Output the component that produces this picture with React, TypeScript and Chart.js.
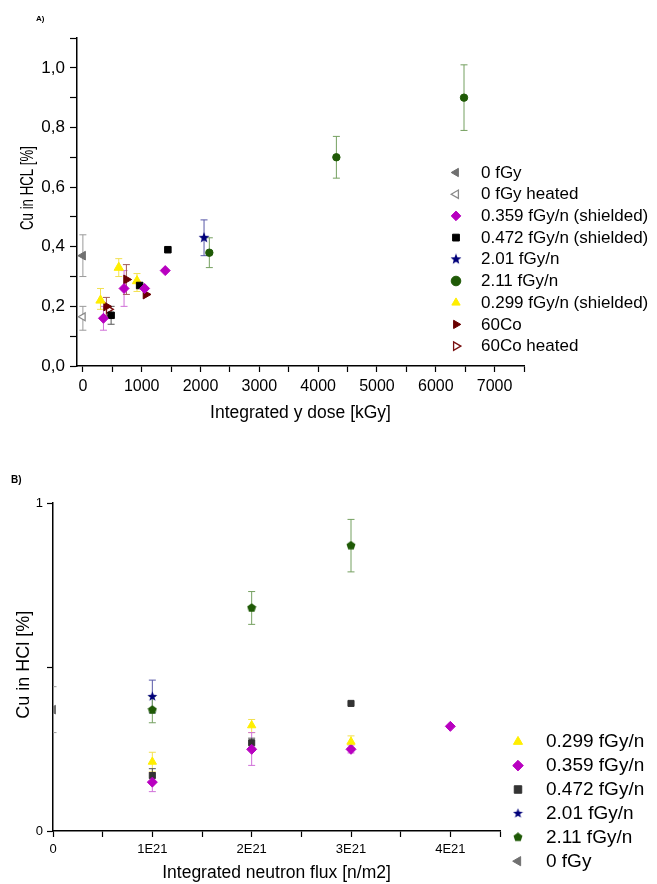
import React, { useEffect, useRef } from 'react';
import { Chart, registerables } from 'chart.js';
import { drawPoint } from 'chart.js/helpers';

Chart.register(...registerables);

const FONT = '"Liberation Sans", Arial, Helvetica, sans-serif';

// ---------- Panel A: Cu in HCL vs integrated gamma dose ----------
const A_X_TICKS = [0, 500, 1000, 1500, 2000, 2500, 3000, 3500, 4000, 4500, 5000, 5500, 6000, 6500, 7000, 7500];
const A_X_LABELS = ['0', '', '1000', '', '2000', '', '3000', '', '4000', '', '5000', '', '6000', '', '7000', ''];
const A_Y_TICKS = [0, 0.1, 0.2, 0.3, 0.4, 0.5, 0.6, 0.7, 0.8, 0.9, 1.0, 1.1];
const A_Y_LABELS = ['0,0', '', '0,2', '', '0,4', '', '0,6', '', '0,8', '', '1,0', ''];

const A0_X = [0];
const A0_Y = [0.37];
const A0_LO = [0.30];
const A0_HI = [0.44];

const A0H_X = [0];
const A0H_Y = [0.165];
const A0H_LO = [0.12];
const A0H_HI = [0.20];

const A359_X = [350, 700, 1050, 1400];
const A359_Y = [0.16, 0.26, 0.26, 0.32];
const A359_LO = [0.12, 0.20, null, null];
const A359_HI = [0.20, 0.32, null, null];

const A472_X = [480, 965, 1445];
const A472_Y = [0.17, 0.27, 0.39];
const A472_LO = [0.14, null, null];
const A472_HI = [0.20, null, null];

const A201_X = [2060];
const A201_Y = [0.43];
const A201_LO = [0.37];
const A201_HI = [0.49];

const A211_X = [2150, 4310, 6480];
const A211_Y = [0.38, 0.70, 0.90];
const A211_LO = [0.33, 0.63, 0.79];
const A211_HI = [0.43, 0.77, 1.01];

const A299_X = [300, 610, 920];
const A299_Y = [0.22, 0.33, 0.285];
const A299_LO = [0.19, 0.30, 0.25];
const A299_HI = [0.26, 0.36, 0.31];

const ACO_X = [400, 740, 1070];
const ACO_Y = [0.20, 0.29, 0.24];
const ACO_LO = [0.17, 0.24, null];
const ACO_HI = [0.23, 0.34, null];

const ACOH_X = [440];
const ACOH_Y = [0.19];
const ACOH_LO = [null];
const ACOH_HI = [null];

const A_LABELS = ['0 fGy', '0 fGy heated', '0.359 fGy/n (shielded)', '0.472 fGy/n (shielded)', '2.01 fGy/n', '2.11 fGy/n', '0.299 fGy/n (shielded)', '60Co', '60Co heated'];

// ---------- Panel B: Cu in HCl vs integrated neutron flux ----------
const B_X_TICKS = [0, 0.5e21, 1e21, 1.5e21, 2e21, 2.5e21, 3e21, 3.5e21, 4e21, 4.5e21];
const B_X_LABELS = ['0', '', '1E21', '', '2E21', '', '3E21', '', '4E21', ''];
const B_Y_TICKS = [0, 0.5, 1];
const B_Y_LABELS = ['0', '', '1'];

const B299_X = [1e21, 2e21, 3e21];
const B299_Y = [0.211, 0.322, 0.272];
const B299_LO = [0.18, 0.30, 0.255];
const B299_HI = [0.24, 0.34, 0.29];

const B359_X = [1e21, 2e21, 3e21, 4e21];
const B359_Y = [0.149, 0.249, 0.249, 0.319];
const B359_LO = [0.12, 0.20, 0.238, null];
const B359_HI = [0.178, 0.30, 0.262, null];

const B472_X = [1e21, 2e21, 3e21];
const B472_Y = [0.169, 0.269, 0.389];
const B472_LO = [0.15, 0.255, null];
const B472_HI = [0.19, 0.283, null];

const B201_X = [1e21];
const B201_Y = [0.41];
const B201_LO = [0.36];
const B201_HI = [0.46];

const B211_X = [1e21, 2e21, 3e21];
const B211_Y = [0.369, 0.68, 0.87];
const B211_LO = [0.33, 0.63, 0.79];
const B211_HI = [0.41, 0.73, 0.95];

const B0_X = [0];
const B0_Y = [0.37];
const B0_LO = [0.30];
const B0_HI = [0.44];

const B_LABELS = ['0.299 fGy/n', '0.359 fGy/n', '0.472 fGy/n', '2.01 fGy/n', '2.11 fGy/n', '0 fGy'];

// ---------- helpers ----------
function makePoly(size: number, n: number, inner: number | null, fill: string) {
  const c = document.createElement('canvas');
  c.width = size;
  c.height = size;
  const ctx = c.getContext('2d')!;
  const cx = size / 2, cy = size / 2, R = size / 2 - 0.3;
  ctx.beginPath();
  const steps = inner ? n * 2 : n;
  for (let i = 0; i < steps; i++) {
    const r = inner && i % 2 === 1 ? R * inner : R;
    const a = -Math.PI / 2 + (i * 2 * Math.PI) / steps;
    const px = cx + r * Math.cos(a), py = cy + r * Math.sin(a);
    if (i === 0) ctx.moveTo(px, py); else ctx.lineTo(px, py);
  }
  ctx.closePath();
  ctx.fillStyle = fill;
  ctx.fill();
  return c;
}

function pts(xs: number[], ys: number[], lo: (number | null)[], hi: (number | null)[]) {
  return xs.map((x, i) => ({ x, y: ys[i], lo: lo[i], hi: hi[i] }));
}

function series(label: string, data: any[], style: any, radius: number, fill: string, border: string, bw: number, err: string, rot = 0, clip?: number) {
  const d: any = {
    label,
    data,
    pointStyle: style,
    pointRadius: radius,
    pointHoverRadius: radius,
    pointBackgroundColor: fill,
    pointBorderColor: border,
    pointBorderWidth: bw,
    pointRotation: rot,
    showLine: false,
    errColor: err,
  };
  if (clip !== undefined) d.clip = clip;
  return d;
}

const errorBarPlugin = {
  id: 'errorBars',
  beforeDatasetsDraw(chart: any) {
    const { ctx, chartArea } = chart;
    const xs = chart.scales.x, ys = chart.scales.y;
    ctx.save();
    ctx.beginPath();
    ctx.rect(chartArea.left, chartArea.top - 2, chartArea.width + 2, chartArea.height + 2);
    ctx.clip();
    chart.data.datasets.forEach((ds: any) => {
      ds.data.forEach((p: any) => {
        if (p.lo == null || p.hi == null) return;
        const x = xs.getPixelForValue(p.x);
        const y1 = ys.getPixelForValue(p.lo);
        const y2 = ys.getPixelForValue(p.hi);
        ctx.strokeStyle = ds.errColor;
        ctx.lineWidth = 1;
        ctx.beginPath();
        ctx.moveTo(x, y1); ctx.lineTo(x, y2);
        ctx.moveTo(x - 3.5, y1); ctx.lineTo(x + 3.5, y1);
        ctx.moveTo(x - 3.5, y2); ctx.lineTo(x + 3.5, y2);
        ctx.stroke();
      });
    });
    ctx.restore();
  },
};

const customLegendPlugin = {
  id: 'customLegend',
  afterDraw(chart: any, _args: any, opts: any) {
    if (!opts || !opts.items) return;
    const { ctx } = chart;
    ctx.save();
    opts.items.forEach((label: string, i: number) => {
      const ds = chart.data.datasets[i];
      const y = opts.y0 + i * opts.dy;
      ctx.fillStyle = ds.pointBackgroundColor;
      ctx.strokeStyle = ds.pointBorderColor;
      ctx.lineWidth = ds.pointBorderWidth;
      drawPoint(ctx, { pointStyle: ds.pointStyle, rotation: ds.pointRotation, radius: opts.r, borderWidth: ds.pointBorderWidth } as any, opts.mx, y);
      ctx.fillStyle = '#000';
      ctx.font = `${opts.fontSize}px ${FONT}`;
      ctx.textBaseline = 'middle';
      ctx.textAlign = 'left';
      ctx.fillText(label, opts.tx, y + 0.5);
    });
    ctx.restore();
  },
};

// vertical axis title drawn with a given length along the text direction
const yTitlePlugin = {
  id: 'yTitle',
  afterDraw(chart: any, _args: any, opts: any) {
    if (!opts || !opts.text) return;
    const { ctx } = chart;
    ctx.save();
    ctx.font = `${opts.size}px ${FONT}`;
    const w = ctx.measureText(opts.text).width;
    const s = opts.length ? opts.length / w : 1;
    ctx.translate(opts.x, opts.y);
    ctx.rotate(-Math.PI / 2);
    ctx.scale(s, 1);
    ctx.fillStyle = '#000';
    ctx.textAlign = 'center';
    ctx.textBaseline = 'middle';
    ctx.fillText(opts.text, 0, 0);
    ctx.restore();
  },
};

function axis(opts: {
  min: number; max: number; ticks: number[]; labels: string[]; size: number; horizontal: boolean;
  fontSize: number; tickLen: number; pad: number; title: string; titleSize: number;
}) {
  return {
    type: 'linear',
    min: opts.min,
    max: opts.max,
    afterBuildTicks: (s: any) => { s.ticks = opts.ticks.map((v) => ({ value: v })); },
    afterFit: (s: any) => { if (opts.horizontal) s.height = opts.size; else s.width = opts.size; },
    ticks: {
      autoSkip: false,
      maxRotation: 0,
      minRotation: 0,
      padding: opts.pad,
      color: '#000',
      font: { family: FONT, size: opts.fontSize },
      callback: (_v: any, i: number) => opts.labels[i],
    },
    grid: {
      display: true,
      drawOnChartArea: false,
      drawTicks: true,
      tickLength: opts.tickLen,
      tickColor: '#000',
      tickWidth: 1.2,
      color: '#000',
    },
    border: { display: true, color: '#000', width: 1.5 },
    title: {
      display: opts.horizontal,
      text: opts.title,
      color: '#000',
      padding: 0,
      font: { family: FONT, size: opts.titleSize },
    },
  };
}

export default function App() {
  const refA = useRef<HTMLCanvasElement>(null);
  const refB = useRef<HTMLCanvasElement>(null);

  useEffect(() => {
    const starA = makePoly(12, 5, 0.42, '#00007a');
    const starB = makePoly(11, 5, 0.42, '#00007a');
    const pentB = makePoly(10, 5, null, '#1f5a06');

    const dsA = [
      series(A_LABELS[0], pts(A0_X, A0_Y, A0_LO, A0_HI), 'triangle', 5, '#707070', '#707070', 1, '#9a9a9a', -90),
      series(A_LABELS[1], pts(A0H_X, A0H_Y, A0H_LO, A0H_HI), 'triangle', 4.5, '#ffffff', '#8a8a8a', 1.3, '#9a9a9a', -90),
      series(A_LABELS[2], pts(A359_X, A359_Y, A359_LO, A359_HI), 'rectRot', 5, '#b800c0', '#b800c0', 1, '#d070d8'),
      series(A_LABELS[3], pts(A472_X, A472_Y, A472_LO, A472_HI), 'rect', 4.6, '#000000', '#000000', 1, '#555555'),
      series(A_LABELS[4], pts(A201_X, A201_Y, A201_LO, A201_HI), starA, 6, '#00007a', '#00007a', 0, '#5858a8'),
      series(A_LABELS[5], pts(A211_X, A211_Y, A211_LO, A211_HI), 'circle', 3.7, '#1f5a06', '#1f5a06', 1, '#75a060'),
      series(A_LABELS[6], pts(A299_X, A299_Y, A299_LO, A299_HI), 'triangle', 5.4, '#ffee00', '#ffee00', 1, '#f2e050'),
      series(A_LABELS[7], pts(ACO_X, ACO_Y, ACO_LO, ACO_HI), 'triangle', 5.2, '#6a0000', '#6a0000', 1, '#a05a5a', 90),
      series(A_LABELS[8], pts(ACOH_X, ACOH_Y, ACOH_LO, ACOH_HI), 'triangle', 4.5, '#ffffff', '#7a1010', 1.3, '#a05a5a', 90),
    ];

    const chartA = new Chart(refA.current!, {
      type: 'scatter',
      data: { datasets: dsA },
      options: {
        animation: false,
        responsive: false,
        maintainAspectRatio: false,
        events: [],
        layout: { padding: { left: 15.5, right: 133, top: 38, bottom: 16.5 } },
        plugins: {
          legend: { display: false },
          tooltip: { enabled: false },
          customLegend: { items: A_LABELS, mx: 456, tx: 481, y0: 172.5, dy: 21.7, r: 4.8, fontSize: 17 },
          yTitle: { text: 'Cu in HCL [%]', x: 27.5, y: 188, size: 19, length: 84 },
        } as any,
        scales: {
          x: axis({ min: -100, max: 7500, ticks: A_X_TICKS, labels: A_X_LABELS, size: 57.5, horizontal: true, fontSize: 16, tickLen: 6, pad: 5, title: 'Integrated y dose [kGy]', titleSize: 17.5 }),
          y: axis({ min: 0, max: 1.1, ticks: A_Y_TICKS, labels: A_Y_LABELS, size: 61.5, horizontal: false, fontSize: 17, tickLen: 7, pad: 5, title: 'Cu in HCL [%]', titleSize: 17.5 }),
        } as any,
      },
      plugins: [errorBarPlugin, customLegendPlugin, yTitlePlugin],
    } as any);

    const dsB = [
      series(B_LABELS[0], pts(B299_X, B299_Y, B299_LO, B299_HI), 'triangle', 4.8, '#ffee00', '#ffee00', 1, '#f2e050'),
      series(B_LABELS[1], pts(B359_X, B359_Y, B359_LO, B359_HI), 'rectRot', 5, '#b800c0', '#b800c0', 1, '#d070d8'),
      series(B_LABELS[2], pts(B472_X, B472_Y, B472_LO, B472_HI), 'rect', 4.3, '#333333', '#333333', 1, '#555555'),
      series(B_LABELS[3], pts(B201_X, B201_Y, B201_LO, B201_HI), starB, 5.5, '#00007a', '#00007a', 0, '#5858a8'),
      series(B_LABELS[4], pts(B211_X, B211_Y, B211_LO, B211_HI), pentB, 5, '#1f5a06', '#1f5a06', 0, '#75a060'),
      series(B_LABELS[5], pts(B0_X, B0_Y, B0_LO, B0_HI), 'triangle', 5, '#707070', '#707070', 1, '#9a9a9a', -90, 0),
    ];

    const chartB = new Chart(refB.current!, {
      type: 'scatter',
      data: { datasets: dsB },
      options: {
        animation: false,
        responsive: false,
        maintainAspectRatio: false,
        events: [],
        layout: { padding: { left: 12, right: 157, top: 63, bottom: 0 } },
        plugins: {
          legend: { display: false },
          tooltip: { enabled: false },
          customLegend: { items: B_LABELS, mx: 518, tx: 546, y0: 301.7, dy: 23.9, r: 5.3, fontSize: 19 },
          yTitle: { text: 'Cu in HCl [%]', x: 24, y: 224.7, size: 18, length: 0 },
        } as any,
        scales: {
          x: axis({ min: 0, max: 4.5e21, ticks: B_X_TICKS, labels: B_X_LABELS, size: 53, horizontal: true, fontSize: 13, tickLen: 6, pad: 5, title: 'Integrated neutron flux [n/m2]', titleSize: 17.5 }),
          y: axis({ min: 0, max: 1, ticks: B_Y_TICKS, labels: B_Y_LABELS, size: 41, horizontal: false, fontSize: 13, tickLen: 6, pad: 4, title: 'Cu in HCl [%]', titleSize: 17.5 }),
        } as any,
      },
      plugins: [errorBarPlugin, customLegendPlugin, yTitlePlugin],
    } as any);

    return () => {
      chartA.destroy();
      chartB.destroy();
    };
  }, []);

  return (
    <div style={{ position: 'absolute', left: 0, top: 0, width: 657, height: 884, background: '#fff', overflow: 'hidden' }}>
      <canvas ref={refA} width={657} height={440} style={{ position: 'absolute', left: 0, top: 0, width: 657, height: 440 }} />
      <canvas ref={refB} width={657} height={444} style={{ position: 'absolute', left: 0, top: 440, width: 657, height: 444 }} />
      <div style={{ position: 'absolute', left: 36, top: 14, font: `bold 8px ${FONT}`, color: '#000' }}>A)</div>
      <div style={{ position: 'absolute', left: 11, top: 474, font: `bold 10px ${FONT}`, color: '#000' }}>B)</div>
    </div>
  );
}
